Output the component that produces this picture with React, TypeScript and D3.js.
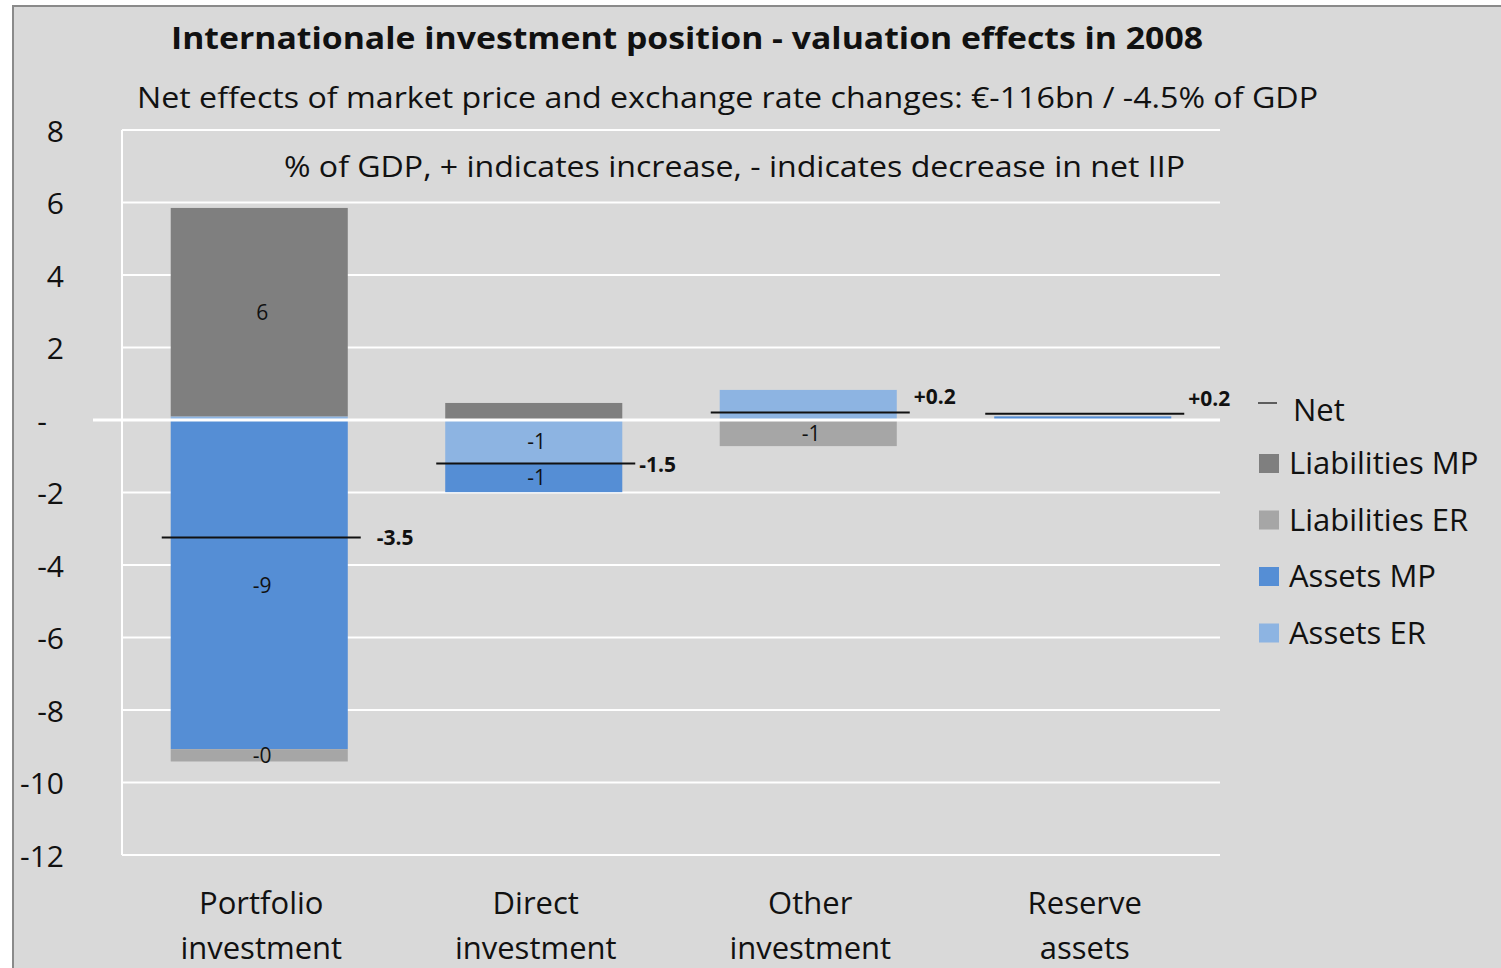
import React from "react";
import * as d3 from "d3";

// ---------- data ----------
const categories = ["Portfolio investment", "Direct investment", "Other investment", "Reserve assets"];
const categoryLines = [
  ["Portfolio", "investment"],
  ["Direct", "investment"],
  ["Other", "investment"],
  ["Reserve", "assets"],
];
const liabilitiesMP = [5.75, 0.47, 0, 0];
const liabilitiesER = [-0.34, 0, -0.72, 0];
const assetsMP = [-9.08, -0.81, 0, 0.1];
const assetsER = [0.1, -1.18, 0.83, 0];
const netValues = [-3.24, -1.2, 0.21, 0.17];
const netLabels = ["-3.5", "-1.5", "+0.2", "+0.2"];

const liabilitiesMPLabels = ["6", "", "", ""];
const liabilitiesERLabels = ["-0", "", "-1", ""];
const assetsMPLabels = ["-9", "-1", "", ""];
const assetsERLabels = ["", "-1", "", ""];

const yTicks = [8, 6, 4, 2, 0, -2, -4, -6, -8, -10, -12];
const stackKeys = ["Assets ER", "Assets MP", "Liabilities ER", "Liabilities MP"];
const legendItems = ["Liabilities MP", "Liabilities ER", "Assets MP", "Assets ER"];

const title = "Internationale investment position - valuation effects in 2008";
const subtitle = "Net effects of market price and exchange rate changes: €-116bn / -4.5% of GDP";
const note = "% of GDP, + indicates increase, - indicates decrease in net IIP";

// ---------- styles ----------
const colors: Record<string, string> = {
  "Liabilities MP": "#7f7f7f",
  "Liabilities ER": "#a6a6a6",
  "Assets MP": "#558ed5",
  "Assets ER": "#8db4e2",
};
const FONT = "'Open Sans', 'Noto Sans', sans-serif";
const W = 1501;
const H = 968;
const plot = { left: 122, right: 1220, top: 130, bottom: 855 };

export default function App() {
  const x = d3
    .scaleBand<string>()
    .domain(categories)
    .range([plot.left, plot.right])
    .paddingInner(0.355)
    .paddingOuter(0.1775);
  const y = d3.scaleLinear().domain([-12, 8]).range([plot.bottom, plot.top]);

  const rows = categories.map((c, i) => ({
    cat: c,
    "Assets ER": assetsER[i],
    "Assets MP": assetsMP[i],
    "Liabilities ER": liabilitiesER[i],
    "Liabilities MP": liabilitiesMP[i],
  }));
  const labelMap: Record<string, string[]> = {
    "Assets ER": assetsERLabels,
    "Assets MP": assetsMPLabels,
    "Liabilities ER": liabilitiesERLabels,
    "Liabilities MP": liabilitiesMPLabels,
  };
  const stacked = d3
    .stack<any>()
    .keys(stackKeys)
    .offset(d3.stackOffsetDiverging)(rows);

  const step = x.step();
  const netW = step * 0.725;
  const cxOf = (i: number) => (x(categories[i]) as number) + x.bandwidth() / 2;

  return (
    <svg
      width={W}
      height={H}
      style={{ position: "absolute", left: 0, top: 0, fontFamily: FONT }}
    >
      <rect x={0} y={0} width={W} height={H} fill="#ffffff" />
      <rect x={13} y={6} width={W + 10} height={H + 10} fill="#d9d9d9" stroke="#8a8a8a" strokeWidth={2} />

      {/* titles */}
      <text x={171} y={49} fontSize={31} fontWeight="bold" fill="#111" textLength={1032} lengthAdjust="spacingAndGlyphs">
        {title}
      </text>
      <text x={137} y={108} fontSize={29} fill="#111" textLength={1181} lengthAdjust="spacingAndGlyphs">
        {subtitle}
      </text>

      {/* gridlines */}
      {yTicks.map((t) => (
        <line key={"g" + t} x1={plot.left} x2={plot.right} y1={y(t)} y2={y(t)} stroke="#ffffff" strokeWidth={2} />
      ))}
      <line x1={plot.left} x2={plot.left} y1={plot.top} y2={plot.bottom} stroke="#ffffff" strokeWidth={2} />

      <text x={284} y={177} fontSize={29} fill="#111" textLength={901} lengthAdjust="spacingAndGlyphs">
        {note}
      </text>

      {/* y tick labels */}
      {yTicks.map((t) => (
        <text
          key={"t" + t}
          x={t === 0 ? 47 : 64}
          y={y(t)}
          textAnchor="end"
          dominantBaseline="central"
          fontSize={30}
          fill="#111"
        >
          {t === 0 ? "-" : String(t)}
        </text>
      ))}

      {/* bars */}
      {stacked.map((s) =>
        s.map((d, i) => {
          const v0 = d[0];
          const v1 = d[1];
          if (v0 === v1) return null;
          return (
            <rect
              key={s.key + i}
              x={x(categories[i])}
              width={x.bandwidth()}
              y={y(Math.max(v0, v1))}
              height={Math.abs(y(v0) - y(v1))}
              fill={colors[s.key]}
            />
          );
        })
      )}

      {/* zero line over bars */}
      <line x1={93} x2={plot.right} y1={y(0)} y2={y(0)} stroke="#ffffff" strokeWidth={3} />

      {/* bar labels */}
      {stacked.map((s) =>
        s.map((d, i) => {
          const lab = labelMap[s.key][i];
          if (!lab) return null;
          return (
            <text
              key={"l" + s.key + i}
              x={cxOf(i) + 3}
              y={y((d[0] + d[1]) / 2)}
              textAnchor="middle"
              dominantBaseline="central"
              fontSize={21}
              fill="#111"
            >
              {lab}
            </text>
          );
        })
      )}

      {/* net lines */}
      {netValues.map((v, i) => {
        const cx = cxOf(i) + 2;
        return (
          <g key={"n" + i}>
            <line x1={cx - netW / 2} x2={cx + netW / 2} y1={y(v)} y2={y(v)} stroke="#111" strokeWidth={2} />
            <text
              x={cx + netW / 2 + (v < -2 ? 16 : 4)}
              y={y(v) - (v > 0 ? 16 : 0)}
              dominantBaseline="central"
              fontSize={21}
              fontWeight="bold"
              fill="#111"
            >
              {netLabels[i]}
            </text>
          </g>
        );
      })}

      {/* category labels */}
      {categoryLines.map((lines, i) => (
        <text key={"c" + i} x={cxOf(i) + 2} y={914} textAnchor="middle" fontSize={31} fill="#111">
          {lines.map((ln, j) => (
            <tspan key={j} x={cxOf(i) + 2} dy={j === 0 ? 0 : 45}>
              {ln}
            </tspan>
          ))}
        </text>
      ))}

      {/* legend */}
      <g>
        <line x1={1258} x2={1277} y1={403} y2={403} stroke="#333" strokeWidth={1.5} />
        <text x={1293} y={421} fontSize={31} fill="#111">
          Net
        </text>
        {legendItems.map((name, i) => {
          const base = 473 + i * 56.5;
          return (
            <g key={"lg" + name}>
              <rect x={1259} y={base - 19} width={20} height={19} fill={colors[name]} />
              <text x={1289} y={base + 1} fontSize={31} fill="#111">
                {name}
              </text>
            </g>
          );
        })}
      </g>
    </svg>
  );
}
